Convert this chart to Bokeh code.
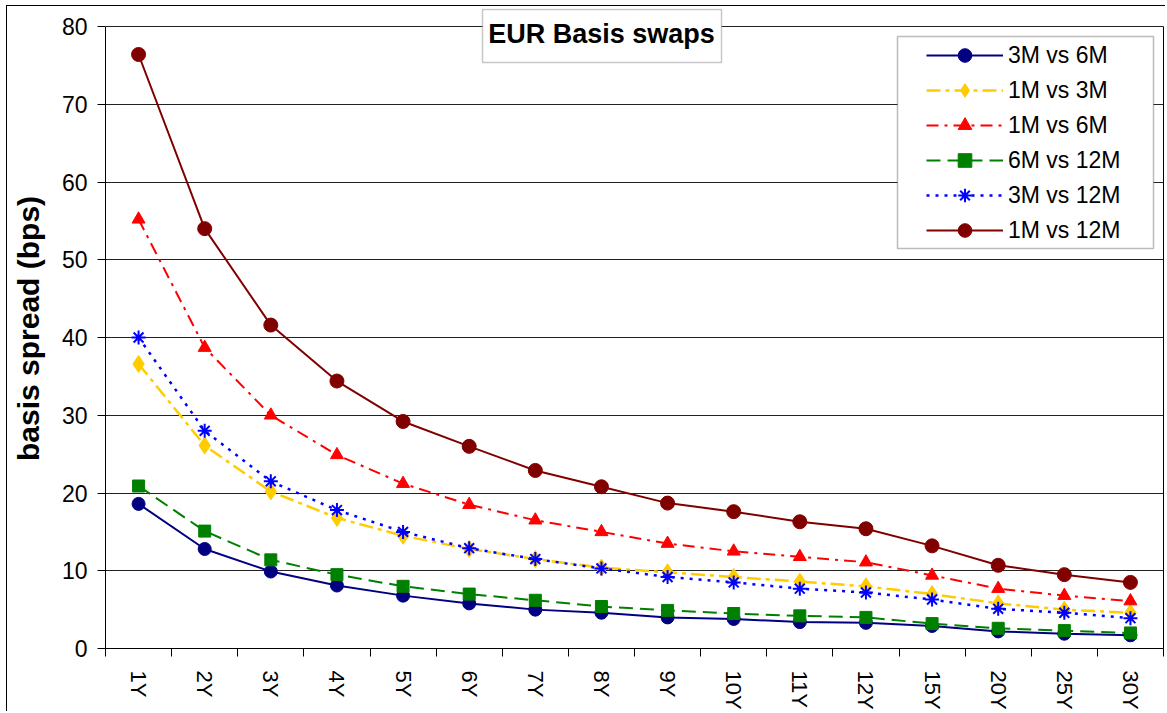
from bokeh.plotting import figure
from bokeh.models import (Range1d, FixedTicker, Legend, LegendItem, Label,
                          BoxAnnotation, CustomJSTickFormatter, LinearAxis)
from bokeh.embed import file_html
from bokeh.resources import INLINE

# ---------------- data ----------------
tenors = ["1Y", "2Y", "3Y", "4Y", "5Y", "6Y", "7Y", "8Y", "9Y", "10Y",
          "11Y", "12Y", "15Y", "20Y", "25Y", "30Y"]
y_ticks = [0, 10, 20, 30, 40, 50, 60, 70, 80]

s_3m_6m = [18.6, 12.8, 9.9, 8.1, 6.8, 5.8, 5.0, 4.6, 4.0, 3.8, 3.4, 3.3, 2.9, 2.2, 1.9, 1.7]
s_1m_3m = [36.6, 26.1, 20.2, 16.8, 14.5, 12.8, 11.5, 10.4, 9.8, 9.2, 8.6, 8.0, 7.0, 5.8, 5.0, 4.6]
s_1m_6m = [55.2, 38.7, 30.0, 24.9, 21.2, 18.5, 16.5, 15.0, 13.5, 12.5, 11.8, 11.1, 9.4, 7.7, 6.8, 6.1]
s_6m_12m = [20.9, 15.1, 11.4, 9.5, 8.0, 7.0, 6.2, 5.4, 4.9, 4.5, 4.2, 4.0, 3.2, 2.6, 2.3, 2.0]
s_3m_12m = [40.0, 28.0, 21.5, 17.8, 15.0, 12.9, 11.5, 10.3, 9.2, 8.5, 7.7, 7.2, 6.3, 5.1, 4.6, 3.9]
s_1m_12m = [76.4, 54.0, 41.6, 34.4, 29.2, 26.0, 22.9, 20.8, 18.7, 17.6, 16.3, 15.4, 13.2, 10.7, 9.5, 8.5]

series_names = ["3M vs 6M", "1M vs 3M", "1M vs 6M", "6M vs 12M", "3M vs 12M", "1M vs 12M"]
series_values = [s_3m_6m, s_1m_3m, s_1m_6m, s_6m_12m, s_3m_12m, s_1m_12m]

# ---------------- styles ----------------
styles = [
    dict(color="#000080", dash="solid", width=2, marker="circle", size=13),
    dict(color="#FFCC00", dash="14 5 4 5", width=2.5, marker="diamond", size=17),
    dict(color="#FF0000", dash="12 6 3 6", width=2, marker="triangle", size=13),
    dict(color="#008000", dash="14 7", width=2, marker="square", size=12),
    dict(color="#0000FF", dash="3 6", width=2.5, marker="asterisk", size=14),
    dict(color="#800000", dash="solid", width=2, marker="circle", size=14),
]

FONT = "Liberation Sans"
n = len(tenors)
xs = [i + 0.5 for i in range(n)]

# plotting frame: page y 8 .. 648; value axis 0..80 occupies page y 26 .. 648
FRAME_H = 640
AXIS_H = 622
y_top = y_ticks[-1] * FRAME_H / AXIS_H

p = figure(width=1159, height=706, output_backend="svg", toolbar_location=None,
           x_range=Range1d(0, n), y_range=Range1d(y_ticks[0], y_top),
           min_border_left=98, min_border_right=3, min_border_top=2,
           min_border_bottom=64, background_fill_color="white",
           border_fill_color="white")
p.styles = {"border-left": "1px solid #000", "border-top": "1px solid #000",
            "margin-left": "6px", "margin-top": "5px"}

p.outline_line_color = None
p.xgrid.grid_line_color = None
p.ygrid.grid_line_color = "#222222"
p.ygrid.grid_line_width = 1
p.ygrid.ticker = FixedTicker(ticks=y_ticks)

# x axis
p.xaxis.ticker = FixedTicker(ticks=xs, minor_ticks=list(range(n + 1)))
p.xaxis.formatter = CustomJSTickFormatter(args=dict(labels=tenors),
                                          code="return labels[Math.floor(tick)] || '';")
p.xaxis.major_tick_line_color = None
p.xaxis.major_tick_out = 8
p.xaxis.major_tick_in = 0
p.xaxis.minor_tick_line_color = "black"
p.xaxis.minor_tick_out = 8
p.xaxis.minor_tick_in = 0
p.xaxis.major_label_orientation = "vertical"
p.xaxis.major_label_standoff = 14
p.xaxis.major_label_text_font = FONT
p.xaxis.major_label_text_font_size = "22px"
p.xaxis.major_label_text_color = "black"
p.xaxis.axis_line_color = "black"

# y axis
p.yaxis.bounds = (y_ticks[0], y_ticks[-1])
p.yaxis.ticker = FixedTicker(ticks=y_ticks)
p.yaxis.major_tick_out = 8
p.yaxis.major_tick_in = 0
p.yaxis.major_tick_line_color = "black"
p.yaxis.minor_tick_line_color = None
p.yaxis.major_label_standoff = 10
p.yaxis.major_label_text_font = FONT
p.yaxis.major_label_text_font_size = "23px"
p.yaxis.major_label_text_color = "black"
p.yaxis.axis_line_color = "black"
p.yaxis.axis_label = "basis spread (bps)"
p.yaxis.axis_label_text_font = FONT
p.yaxis.axis_label_text_font_size = "30px"
p.yaxis.axis_label_text_font_style = "bold"
p.yaxis.axis_label_text_color = "black"
p.yaxis.axis_label_standoff = 14

# right edge of the plot area
right_edge = LinearAxis(bounds=(y_ticks[0], y_ticks[-1]), ticker=FixedTicker(ticks=[]),
                        major_tick_line_color=None, minor_tick_line_color=None,
                        major_tick_out=0, major_tick_in=0, minor_tick_out=0,
                        major_label_standoff=0, major_label_text_font_size="0px",
                        axis_line_color="black", axis_line_width=1)
p.add_layout(right_edge, "right")

items = []
for name, vals, st in zip(series_names, series_values, styles):
    ln = p.line(xs, vals, line_color=st["color"], line_width=st["width"],
                line_dash=st["dash"])
    if st["marker"] == "asterisk":
        sc = p.scatter(xs, vals, marker="asterisk", size=st["size"],
                       line_color=st["color"], line_width=2)
    else:
        sc = p.scatter(xs, vals, marker=st["marker"], size=st["size"],
                       fill_color=st["color"], line_color=st["color"])
    items.append(LegendItem(label=name, renderers=[ln, sc]))

# title frame (screen units, relative to the plot frame's bottom-left)
title_box = BoxAnnotation(left=377, right=616, top=639, bottom=586,
                          left_units="screen", right_units="screen",
                          top_units="screen", bottom_units="screen",
                          fill_color="white", fill_alpha=1.0,
                          line_color="#444444", line_width=1.5)
p.add_layout(title_box)

title = Label(x=496, y=615, x_units="screen", y_units="screen",
              text="EUR Basis swaps", text_align="center", text_baseline="middle",
              text_font=FONT, text_font_size="27px", text_font_style="bold",
              text_color="black")
p.add_layout(title)

# legend frame (screen units, relative to the plot frame's bottom-left)
legend_box = BoxAnnotation(left=792, right=1048, top=612, bottom=400,
                           left_units="screen", right_units="screen",
                           top_units="screen", bottom_units="screen",
                           fill_color="white", fill_alpha=1.0,
                           line_color="#222222", line_width=1.5)
p.add_layout(legend_box)

legend = Legend(items=items, location=(821, 401), padding=2,
                glyph_width=77, glyph_height=34, label_standoff=5,
                label_width=143, spacing=1,
                label_text_font=FONT, label_text_font_size="23px",
                label_text_color="black",
                border_line_color=None, background_fill_alpha=0.0)
p.add_layout(legend)

open("out.html", "w").write(file_html(p, INLINE))
